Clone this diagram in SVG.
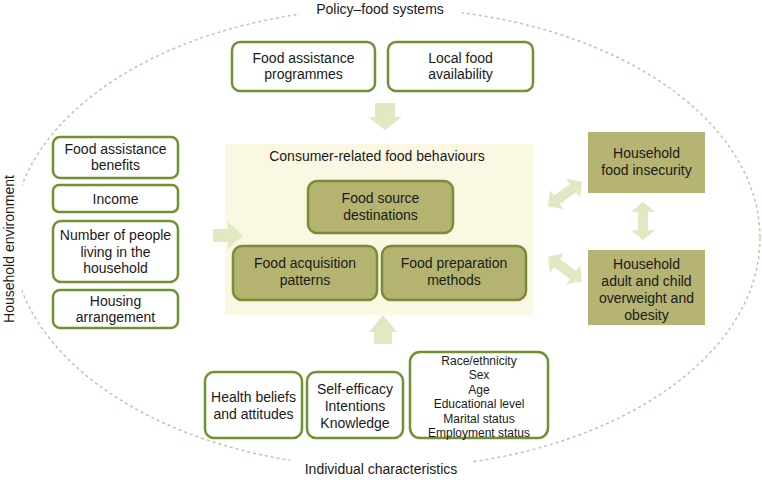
<svg xmlns="http://www.w3.org/2000/svg" width="762" height="480" viewBox="0 0 762 480">
<defs>
<style>
text{font-family:"Liberation Sans",Arial,sans-serif;fill:#1a1a1a;text-anchor:middle}
.t{font-size:14px}
.s{font-size:12px}
.wb{fill:#fff;stroke:#6f9333;stroke-width:2.5}
.ob{fill:#b4b470;stroke:#7a8a37;stroke-width:2.5}
.rb{fill:#b5b472}
.ar{fill:url(#ag)}
.el{fill:none;stroke:#b8c8aa;stroke-width:1.5;stroke-dasharray:3 3}
</style>
<linearGradient id="ag" x1="0" y1="0" x2="1" y2="1">
<stop offset="0" stop-color="#dde8c0"/>
<stop offset="1" stop-color="#e6e8c4"/>
</linearGradient>
<path id="dbl" d="M-21 0 L-10 -12 L-10 -5 L10 -5 L10 -12 L21 0 L10 12 L10 5 L-10 5 L-10 12 Z"/>
</defs>
<ellipse class="el" cx="386" cy="238" rx="374" ry="230"/>
<rect x="300" y="0" width="162" height="20" fill="#fff"/>
<rect x="290" y="458" width="182" height="22" fill="#fff"/>
<rect x="0" y="165" width="22" height="166" fill="#fff"/>
<text class="t" x="380" y="14">Policy–food systems</text>
<text class="t" x="381" y="474">Individual characteristics</text>
<text class="t" transform="translate(14 249) rotate(-90)">Household environment</text>

<g id="panel">
<rect x="225" y="144" width="308" height="171" fill="#faf8e2"/>
<text class="t" x="377" y="161">Consumer-related food behaviours</text>
</g>

<g id="connectors">
<path class="ar" d="M375 103 H395 V117 H402 L385 130 L368 117 H375 Z"/>
<path class="ar" d="M213 229 H228 V222 L243 235.5 L228 249 V242 H213 Z"/>
<path class="ar" d="M374 344 V332 H369 L383 315 L397 332 H392 V344 Z"/>
<use class="ar" href="#dbl" transform="translate(565 194) rotate(-36)"/>
<use class="ar" href="#dbl" transform="translate(565 269) rotate(36)"/>
<use class="ar" href="#dbl" transform="translate(643 221) rotate(90) scale(0.92 1)"/>
</g>

<g id="n-fap">
<rect class="wb" x="232" y="42" width="143" height="49" rx="8"/>
<text class="t" x="303.5" y="63">Food assistance</text>
<text class="t" x="303.5" y="79">programmes</text>
</g>
<g id="n-lfa">
<rect class="wb" x="388" y="42" width="145" height="49" rx="8"/>
<text class="t" x="460.5" y="63">Local food</text>
<text class="t" x="460.5" y="79">availability</text>
</g>

<g id="n-fab">
<rect class="wb" x="53" y="137" width="125" height="41" rx="7"/>
<text class="t" x="115.5" y="154">Food assistance</text>
<text class="t" x="115.5" y="170">benefits</text>
</g>
<g id="n-inc">
<rect class="wb" x="53" y="185" width="125" height="27" rx="6"/>
<text class="t" x="115.5" y="203.5">Income</text>
</g>
<g id="n-npl">
<rect class="wb" x="53" y="221" width="125" height="61" rx="8"/>
<text class="t" x="115.5" y="240">Number of people</text>
<text class="t" x="115.5" y="256.5">living in the</text>
<text class="t" x="115.5" y="273">household</text>
</g>
<g id="n-ha">
<rect class="wb" x="53" y="290" width="125" height="38" rx="7"/>
<text class="t" x="115.5" y="305.5">Housing</text>
<text class="t" x="115.5" y="322">arrangement</text>
</g>

<g id="n-fsd">
<rect class="ob" x="308" y="181" width="145" height="52" rx="9"/>
<text class="t" x="380.5" y="203">Food source</text>
<text class="t" x="380.5" y="220">destinations</text>
</g>
<g id="n-fapat">
<rect class="ob" x="233" y="246" width="144" height="54" rx="9"/>
<text class="t" x="305" y="268">Food acquisition</text>
<text class="t" x="305" y="285">patterns</text>
</g>
<g id="n-fpm">
<rect class="ob" x="382" y="246" width="144" height="54" rx="9"/>
<text class="t" x="454" y="268">Food preparation</text>
<text class="t" x="454" y="285">methods</text>
</g>

<g id="n-hfi">
<rect class="rb" x="588" y="132" width="117" height="61"/>
<text class="t" x="646.5" y="158">Household</text>
<text class="t" x="646.5" y="175">food insecurity</text>
</g>
<g id="n-hob">
<rect class="rb" x="588" y="250" width="117" height="75"/>
<text class="t" x="646.5" y="269">Household</text>
<text class="t" x="646.5" y="286">adult and child</text>
<text class="t" x="646.5" y="303">overweight and</text>
<text class="t" x="646.5" y="320">obesity</text>
</g>

<g id="n-hba">
<rect class="wb" x="205" y="372" width="97" height="66" rx="9"/>
<text class="t" x="253.5" y="402">Health beliefs</text>
<text class="t" x="253.5" y="419">and attitudes</text>
</g>
<g id="n-sik">
<rect class="wb" x="307" y="372" width="96" height="66" rx="9"/>
<text class="t" x="355" y="394">Self-efficacy</text>
<text class="t" x="355" y="411">Intentions</text>
<text class="t" x="355" y="428">Knowledge</text>
</g>
<g id="n-dem">
<rect class="wb" x="410" y="352" width="138" height="86" rx="10"/>
<text class="s" x="479" y="364.5">Race/ethnicity</text>
<text class="s" x="479" y="379">Sex</text>
<text class="s" x="479" y="393.5">Age</text>
<text class="s" x="479" y="408">Educational level</text>
<text class="s" x="479" y="422.5">Marital status</text>
<text class="s" x="479" y="436.5">Employment status</text>
</g>
</svg>
